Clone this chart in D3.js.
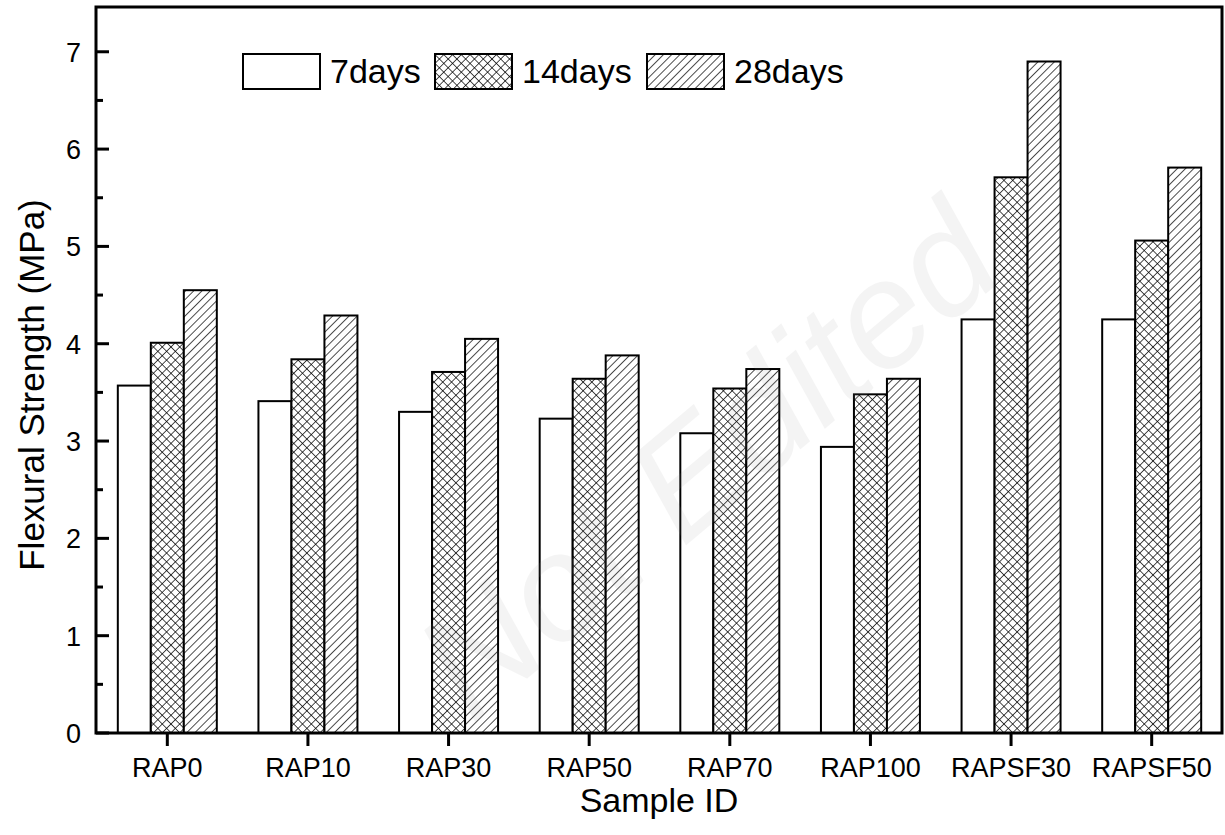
<!DOCTYPE html>
<html>
<head>
<meta charset="utf-8">
<script src="https://cdn.jsdelivr.net/npm/d3@7"></script>
<style>
  body { margin: 0; background: #fff; }
  text { font-family: Arial, "Liberation Sans", sans-serif; fill: #000; }
</style>
</head>
<body>
<div id="chart"></div>
<script>
const categories = ["RAP0", "RAP10", "RAP30", "RAP50", "RAP70", "RAP100", "RAPSF30", "RAPSF50"];
const seriesNames = ["7days", "14days", "28days"];
const days7 = [3.57, 3.41, 3.30, 3.23, 3.08, 2.94, 4.25, 4.25];
const days14 = [4.01, 3.84, 3.71, 3.64, 3.54, 3.48, 5.71, 5.06];
const days28 = [4.55, 4.29, 4.05, 3.88, 3.74, 3.64, 6.90, 5.81];
const yTicks = [0, 1, 2, 3, 4, 5, 6, 7];

const W = 1225, H = 835;
const frame = {left: 96, right: 1222, top: 7, bottom: 733};

const svg = d3.select("#chart").append("svg")
  .attr("width", W).attr("height", H);

// fill patterns
const defs = svg.append("defs");
const diag = defs.append("pattern")
  .attr("id", "diag").attr("patternUnits", "userSpaceOnUse")
  .attr("width", 5.8).attr("height", 5.8)
  .attr("patternTransform", "rotate(45)");
diag.append("rect").attr("width", 5.8).attr("height", 5.8).attr("fill", "#fff");
diag.append("line").attr("x1", 0).attr("y1", 0).attr("x2", 0).attr("y2", 5.8)
  .attr("stroke", "#000").attr("stroke-width", 1.4);

const cross = defs.append("pattern")
  .attr("id", "cross").attr("patternUnits", "userSpaceOnUse")
  .attr("width", 6.2).attr("height", 6.2)
  .attr("patternTransform", "rotate(45)");
cross.append("rect").attr("width", 6.2).attr("height", 6.2).attr("fill", "#fff");
cross.append("line").attr("x1", 0).attr("y1", 0).attr("x2", 0).attr("y2", 6.2)
  .attr("stroke", "#000").attr("stroke-width", 1.4);
cross.append("line").attr("x1", 0).attr("y1", 0).attr("x2", 6.2).attr("y2", 0)
  .attr("stroke", "#000").attr("stroke-width", 1.4);

const fills = ["#fff", "url(#cross)", "url(#diag)"];

// scales
const x = d3.scaleBand().domain(categories).range([frame.left + 1, frame.right]).padding(0);
const xs = d3.scaleBand().domain(seriesNames)
  .range([x.bandwidth() * 0.148, x.bandwidth() * 0.852]).padding(0);
const y = d3.scaleLinear().domain([0, 7.46]).range([frame.bottom, frame.top]);

// bars
const data = [days7, days14, days28];
const groups = svg.append("g").selectAll("g")
  .data(seriesNames).join("g")
  .attr("fill", (d, i) => fills[i]);

groups.selectAll("rect")
  .data((s, i) => data[i].map((v, j) => ({cat: categories[j], s: s, v: v})))
  .join("rect")
  .attr("x", d => x(d.cat) + xs(d.s))
  .attr("y", d => y(d.v))
  .attr("width", xs.bandwidth())
  .attr("height", d => y(0) - y(d.v))
  .attr("stroke", "#000")
  .attr("stroke-width", 2);

// frame
svg.append("rect")
  .attr("x", frame.left).attr("y", frame.top)
  .attr("width", frame.right - frame.left).attr("height", frame.bottom - frame.top)
  .attr("fill", "none").attr("stroke", "#000").attr("stroke-width", 3);

// y axis ticks (inside)
const yAxis = svg.append("g");
yAxis.selectAll("line.major").data(yTicks).join("line")
  .attr("x1", frame.left).attr("x2", frame.left + 13)
  .attr("y1", d => y(d)).attr("y2", d => y(d))
  .attr("stroke", "#000").attr("stroke-width", 3);
yAxis.selectAll("line.minor").data(yTicks.slice(0, -1).map(d => d + 0.5)).join("line")
  .attr("class", "minor")
  .attr("x1", frame.left).attr("x2", frame.left + 7)
  .attr("y1", d => y(d)).attr("y2", d => y(d))
  .attr("stroke", "#000").attr("stroke-width", 3);
yAxis.selectAll("text").data(yTicks).join("text")
  .attr("x", 81).attr("y", d => y(d) + 10)
  .attr("text-anchor", "end")
  .attr("font-size", 27)
  .text(d => d);

// x axis ticks (outside)
const xAxis = svg.append("g");
xAxis.selectAll("line").data(categories).join("line")
  .attr("x1", d => x(d) + x.bandwidth() / 2).attr("x2", d => x(d) + x.bandwidth() / 2)
  .attr("y1", frame.bottom).attr("y2", frame.bottom + 13)
  .attr("stroke", "#000").attr("stroke-width", 3);
xAxis.selectAll("text").data(categories).join("text")
  .attr("x", d => x(d) + x.bandwidth() / 2).attr("y", 777)
  .attr("text-anchor", "middle")
  .attr("font-size", 27)
  .text(d => d);

// axis titles
svg.append("text")
  .attr("x", (frame.left + frame.right) / 2).attr("y", 812)
  .attr("text-anchor", "middle").attr("font-size", 34)
  .text("Sample ID");
svg.append("text")
  .attr("transform", "translate(44," + ((frame.top + frame.bottom) / 2 + 15) + ") rotate(-90)")
  .attr("text-anchor", "middle").attr("font-size", 35)
  .text("Flexural Strength (MPa)");

// legend
const legendX = [243, 435, 647];
const legend = svg.append("g").selectAll("g")
  .data(seriesNames).join("g")
  .attr("transform", (d, i) => "translate(" + legendX[i] + ",54)");
legend.append("rect")
  .attr("width", 77).attr("height", 35)
  .attr("fill", (d, i) => fills[i])
  .attr("stroke", "#000").attr("stroke-width", 2);
legend.append("text")
  .attr("x", 87).attr("y", 29)
  .attr("font-size", 34)
  .text(d => d);

// faint watermark
svg.append("text")
  .attr("transform", "translate(740,500) rotate(-40)")
  .attr("text-anchor", "middle")
  .attr("font-family", "DejaVu Serif, serif")
  .attr("font-style", "italic")
  .attr("font-size", 150)
  .attr("opacity", 0.1)
  .style("fill", "#999")
  .text("Not Edited");
</script>
</body>
</html>
